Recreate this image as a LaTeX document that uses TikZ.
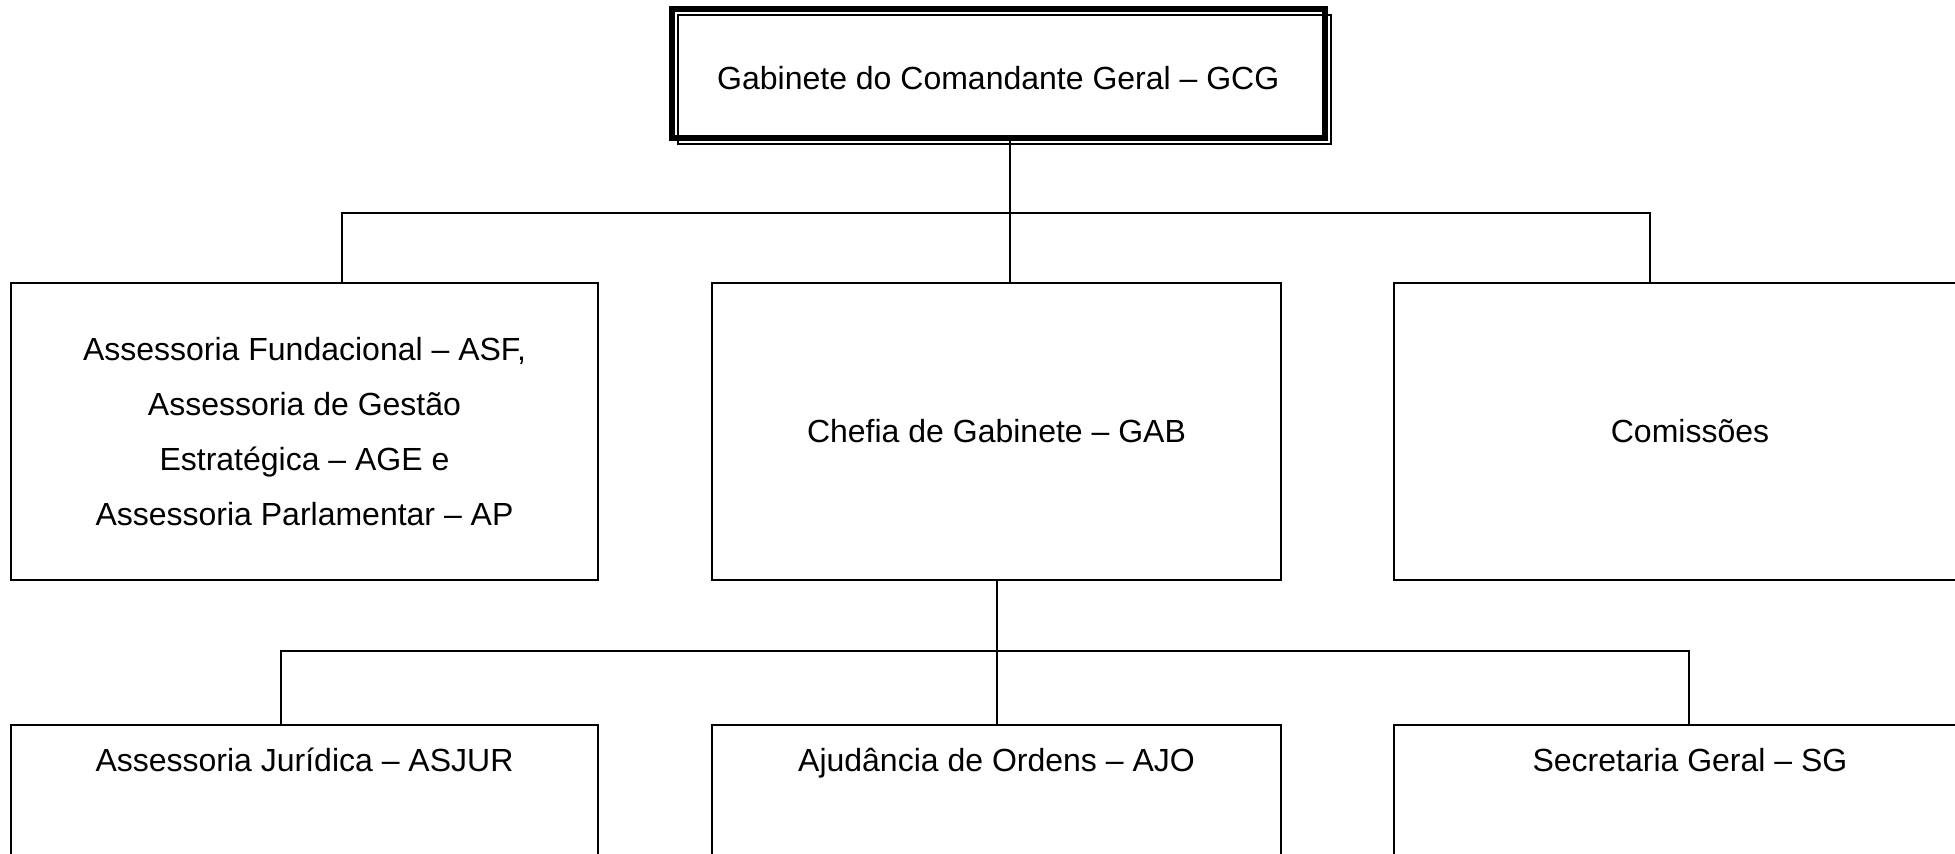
\documentclass[tikz,border=0pt]{standalone}
\usepackage{fontspec}
\setmainfont{Liberation Sans}
\usetikzlibrary{positioning, calc}
\tikzset{orgbox/.style={draw, line width=0.75pt, inner sep=0pt, minimum height=111.4pt, align=center, font=\fontsize{12pt}{20.7pt}\selectfont},
lowbox/.style={draw, line width=0.75pt, inner sep=0pt, anchor=north, text height=17.6pt, text depth=60pt, font=\fontsize{12pt}{14pt}\selectfont},
link/.style={line width=0.9pt}}

\begin{document}
\begin{tikzpicture}[x=0.375pt, y=-0.375pt]

                 \useasboundingbox (0,0) rectangle (1955,854);
                 \fill[white] (0,0) rectangle (1955,854);
                 \clip (0,0) rectangle (1955,854);

                 % top
                 \node[draw, line width=2.25pt, outer sep=0pt, inner sep=0pt, minimum width=244.7pt, minimum height=48.4pt, text height=11.8pt, text depth=0pt, font=\fontsize{12pt}{14pt}\selectfont] (gcg) at (998.25,73.5) {Gabinete do Comandante Geral – GCG};
                 \draw[line width=0.75pt] ([shift={(2.25pt,-2.25pt)}]gcg.north west) rectangle ([shift={(2.25pt,-2.25pt)}]gcg.south east);

                 \node[orgbox, minimum width=220.1pt] (asf) at (304.5,431.5) {Assessoria Fundacional – ASF,\\Assessoria de Gestão\\Estratégica – AGE e\\Assessoria Parlamentar – AP};
                 \node[orgbox, minimum width=213.4pt] (gab) at (996.5,431.5) {Chefia de Gabinete – GAB};
                 \node[orgbox, minimum width=222pt] (com) at (1690,431.5) {Comissões};

                 \node[lowbox, minimum width=220.1pt] (asjur) at (304.5,724) {Assessoria Jurídica – ASJUR};
                 \node[lowbox, minimum width=213.4pt] (ajo) at (996.5,724) {Ajudância de Ordens – AJO};
                 \node[lowbox, minimum width=222pt] (sg) at (1690,724) {Secretaria Geral – SG};

                 \coordinate (b1l) at (342,213);
                 \coordinate (b1m) at (1010,213);
                 \coordinate (b1r) at (1650,213);
                 \coordinate (b2l) at (281,651);
                 \coordinate (b2m) at (997,651);
                 \coordinate (b2r) at (1689,651);

                 \draw[link] (gcg.south -| b1m) -- (b1m);
                 \draw[link] (asf.north -| b1l) |- (b1r) -- (com.north -| b1r);
                 \draw[link] (b1m) -- (gab.north -| b1m);

                 \draw[link] (gab.south -| b2m) -- (b2m);
                 \draw[link] (asjur.north -| b2l) |- (b2r) -- (sg.north -| b2r);
                 \draw[link] (b2m) -- (ajo.north -| b2m);

\end{tikzpicture}
\end{document}
